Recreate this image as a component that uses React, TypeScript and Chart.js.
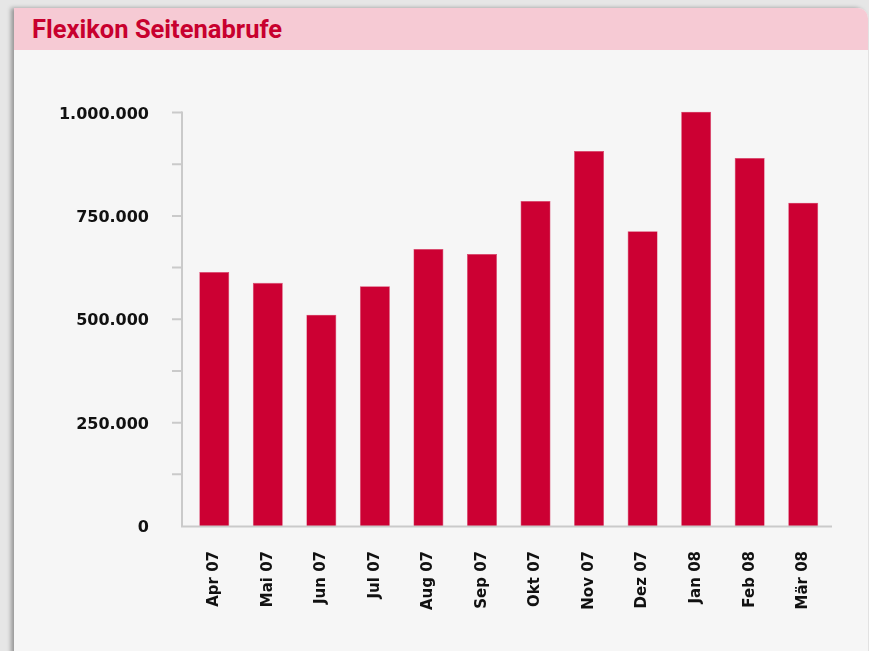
import React, { useEffect, useRef } from "react";
import { Chart, registerables } from "chart.js";

Chart.register(...registerables);

const title = "Flexikon Seitenabrufe";
const months = ["Apr 07", "Mai 07", "Jun 07", "Jul 07", "Aug 07", "Sep 07", "Okt 07", "Nov 07", "Dez 07", "Jan 08", "Feb 08", "Mär 08"];
const pageViews = [614000, 588000, 511000, 580000, 670000, 658000, 786000, 907000, 713000, 1002000, 890000, 782000];
const yMin = 0;
const yMax = 1000000;
const yStep = 125000;
const yLabelStep = 250000;

const fmt = (v: number) => String(Math.round(v)).replace(/\B(?=(\d{3})+(?!\d))/g, ".");

const axisPlugin = {
  id: "customAxes",
  afterDraw(chart: any) {
    const { ctx, chartArea, scales } = chart;
    const y = scales.y;
    const ax = chartArea.left - 5.5;
    const top = y.getPixelForValue(yMax);
    const bottom = chartArea.bottom + 0.5;
    ctx.save();
    ctx.strokeStyle = "#cacaca";
    ctx.lineWidth = 2;
    ctx.beginPath();
    ctx.moveTo(ax, top - 1);
    ctx.lineTo(ax, bottom);
    ctx.lineTo(chartArea.right + 2, bottom);
    ctx.stroke();
    ctx.beginPath();
    y.ticks.forEach((t: any) => {
      const py = y.getPixelForValue(t.value);
      if (t.value === 0) return;
      ctx.moveTo(ax - 10, py);
      ctx.lineTo(ax, py);
    });
    ctx.stroke();
    ctx.restore();
  },
};

function BarChart() {
  const ref = useRef<HTMLCanvasElement>(null);
  useEffect(() => {
    if (!ref.current) return;
    const chart = new Chart(ref.current, {
      type: "bar",
      data: {
        labels: months,
        datasets: [
          {
            label: title,
            data: pageViews,
            backgroundColor: "#cc0033",
            borderColor: "#d9406a",
            borderWidth: 0.6,
            barPercentage: 0.56,
            categoryPercentage: 1,
            clip: false as any,
          },
        ],
      },
      options: {
        animation: false,
        responsive: false,
        maintainAspectRatio: false,
        layout: { padding: { left: 0, right: 39, top: 62.5, bottom: 0 } },
        plugins: { legend: { display: false }, tooltip: { enabled: false }, title: { display: false } },
        scales: {
          x: {
            grid: { display: false, drawTicks: false },
            border: { display: false },
            afterFit: (s: any) => {
              s.height = 125;
            },
            ticks: {
              autoSkip: false,
              minRotation: 90,
              maxRotation: 90,
              padding: 25,
              color: "#111111",
              font: { family: "'DejaVu Sans', sans-serif", size: 15, weight: "bold" },
            },
          },
          y: {
            min: yMin,
            max: yMax,
            grid: { display: false, drawTicks: false },
            border: { display: false },
            afterFit: (s: any) => {
              s.width = 187.5;
            },
            ticks: {
              stepSize: yStep,
              autoSkip: false,
              padding: 38.5,
              labelOffset: 2,
              color: "#111111",
              font: { family: "'DejaVu Sans', sans-serif", size: 16, weight: "bold" },
              callback: (v: any) => (Number(v) % yLabelStep === 0 ? fmt(Number(v)) : ""),
            },
          },
        },
      },
      plugins: [axisPlugin],
    });
    return () => chart.destroy();
  }, []);
  return (
    <canvas
      ref={ref}
      width={869}
      height={601}
      style={{ position: "absolute", left: 0, top: 50, width: 869, height: 601 }}
    />
  );
}

export default function App() {
  return (
    <div style={{ position: "fixed", left: 0, top: 0, width: 869, height: 651, overflow: "hidden", background: "#e6e6e6" }}>
      <div
        style={{
          position: "absolute",
          left: 14,
          top: 8,
          width: 854,
          height: 700,
          background: "#f6f6f6",
          borderTopRightRadius: 10,
          boxShadow: "-3px 0 4px rgba(0,0,0,0.35)",
          overflow: "hidden",
        }}
      >
        <div
          style={{
            height: 42,
            background: "#f6cad4",
            display: "flex",
            alignItems: "center",
            paddingLeft: 18,
            fontFamily: "Roboto, 'Liberation Sans', sans-serif",
            fontWeight: 700,
            fontSize: 25.5,
            color: "#c8002e",
          }}
        >
          {title}
        </div>
      </div>
      <BarChart />
    </div>
  );
}
